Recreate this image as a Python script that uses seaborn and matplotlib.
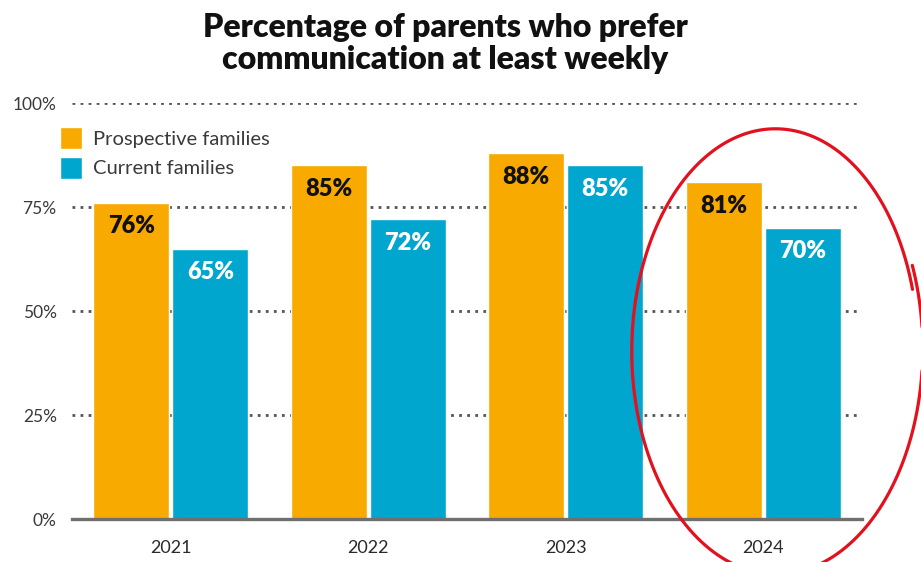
import numpy as np
import pandas as pd
import matplotlib
matplotlib.use("Agg")
import matplotlib.pyplot as plt
from matplotlib.lines import Line2D
import seaborn as sns

# ---- data ----
years = ["2021", "2022", "2023", "2024"]
groups = ["Prospective families", "Current families"]
prospective = [76, 85, 88, 81]
current = [65, 72, 85, 70]
y_ticks = [0, 25, 50, 75, 100]
y_tick_labels = ["0%", "25%", "50%", "75%", "100%"]
title = "Percentage of parents who prefer\ncommunication at least weekly"

ORANGE = "#F8AA00"
BLUE = "#00A6CE"
LABEL_COLORS = {"Prospective families": "#111111", "Current families": "white"}

df = pd.DataFrame({
    "year": years * 2,
    "value": prospective + current,
    "group": [groups[0]] * len(years) + [groups[1]] * len(years),
})

sns.set_theme(style="white")
plt.rcParams["font.family"] = ["Lato", "DejaVu Sans"]

W, H = 921, 562
fig = plt.figure(figsize=(W / 100, H / 100), dpi=100)
ax = fig.add_axes([72 / W, 1 - 519 / H, (862 - 72) / W, (519 - 103) / H])

sns.barplot(data=df, x="year", y="value", hue="group", hue_order=groups,
            palette=[ORANGE, BLUE], saturation=1, width=0.8, gap=0.04,
            ax=ax, legend=True)

ax.set_xlim(-0.5, 3.5)
ax.set_ylim(0, 100)
ax.set_yticks(y_ticks)
ax.set_yticklabels(y_tick_labels)
ax.set_xlabel("")
ax.set_ylabel("")

# dotted gridlines behind the bars
ax.set_axisbelow(True)
for v in y_ticks[1:]:
    ax.axhline(v, color="#555555", lw=2.0, linestyle=(0, (1, 1.9)), zorder=0)

for side in ["top", "right", "left"]:
    ax.spines[side].set_visible(False)
ax.spines["bottom"].set_color("#6f6f6f")
ax.spines["bottom"].set_linewidth(2.4)
ax.spines["bottom"].set_zorder(5)

ax.tick_params(axis="y", length=0, pad=11, labelsize=12.5, labelcolor="#3a3a3a")
ax.tick_params(axis="x", length=0, pad=15, labelsize=13, labelcolor="#2a2a2a")

# value labels inside the top of each bar
for container, grp in zip(ax.containers, groups):
    for bar in container:
        h = bar.get_height()
        ax.annotate(f"{h:.0f}%", (bar.get_x() + bar.get_width() / 2, h),
                    xytext=(0, -17), textcoords="offset points",
                    ha="center", va="center", fontsize=17, fontweight="heavy",
                    color=LABEL_COLORS[grp], zorder=6)

# legend
handles, labels = ax.get_legend_handles_labels()
ax.legend(handles, labels, loc="upper left",
          bbox_to_anchor=(60 / W, 1 - 127 / H), bbox_transform=fig.transFigure,
          frameon=False, fontsize=14.5, handlelength=1.1, handleheight=1.3,
          labelspacing=0.38, handletextpad=0.55, borderpad=0, borderaxespad=0,
          labelcolor="#3a3a3a")

# title
fig.text(445 / W, 1 - 13 / H, title, ha="center", va="top", fontsize=23,
         fontweight="heavy", linespacing=1.13, color="#111111")

# hand-drawn red loop around 2024
t = np.radians(np.linspace(16, 382, 400))
a = np.linspace(142, 147, t.size)
b = np.linspace(220, 226, t.size)
px = 776 + a * np.cos(t)
py = 350 - b * np.sin(t)
fig.add_artist(Line2D(px / W, 1 - py / H, transform=fig.transFigure,
                      color="#E3101E", lw=2.3, solid_capstyle="round"))

fig.savefig("out.png", dpi=100)
